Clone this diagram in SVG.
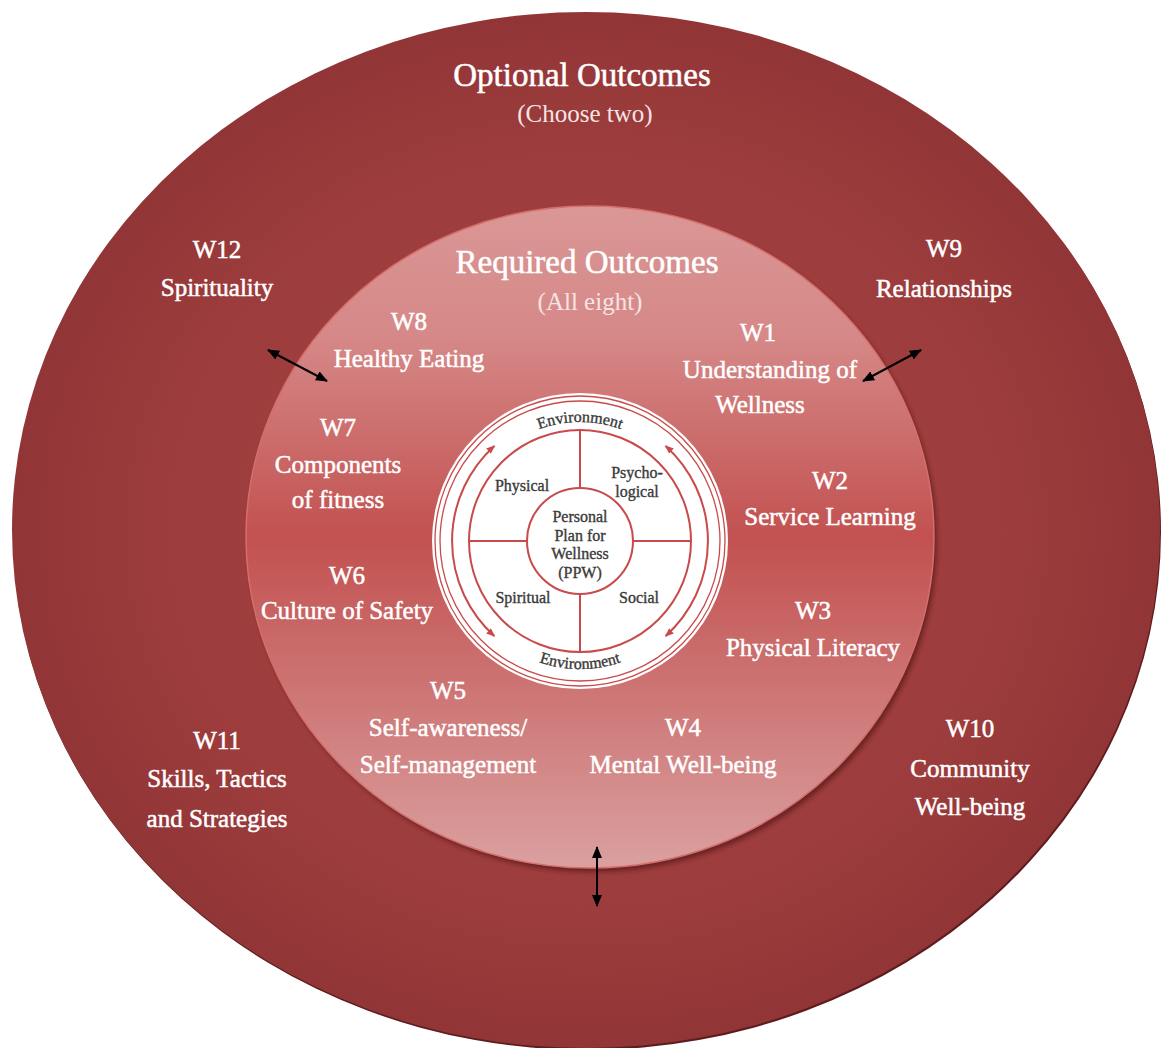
<svg xmlns="http://www.w3.org/2000/svg" width="1161" height="1048" viewBox="0 0 1161 1048">
  <defs>
    <radialGradient id="gOuter" cx="0.5" cy="0.5" r="0.5">
      <stop offset="0" stop-color="#a44341"/>
      <stop offset="0.75" stop-color="#9c3c3c"/>
      <stop offset="1" stop-color="#923537"/>
    </radialGradient>
    <linearGradient id="gInner" x1="0" y1="0" x2="0" y2="1">
      <stop offset="0" stop-color="#da9796"/>
      <stop offset="0.2" stop-color="#d58887"/>
      <stop offset="0.5" stop-color="#c25150"/>
      <stop offset="0.8" stop-color="#d0807f"/>
      <stop offset="1" stop-color="#daa0a0"/>
    </linearGradient>
    <filter id="blur2" x="-5%" y="-5%" width="110%" height="110%">
      <feGaussianBlur stdDeviation="2"/>
    </filter>
    <marker id="ahBlack" viewBox="0 0 12 10" refX="11" refY="5" markerWidth="12" markerHeight="10" markerUnits="userSpaceOnUse" orient="auto-start-reverse">
      <path d="M0,0 L12,5 L0,10 z" fill="#000"/>
    </marker>
    <marker id="ahRed" viewBox="0 0 10 8" refX="9" refY="4" markerWidth="9" markerHeight="7" markerUnits="userSpaceOnUse" orient="auto-start-reverse">
      <path d="M0,0 L10,4 L0,8 z" fill="#c84a4a"/>
    </marker>
    <path id="envTop" d="M 461,541 A 119 119 0 0 1 699,541"/>
    <path id="envBot" d="M 452,541 A 128 128 0 0 0 708,541"/>
  </defs>
  <style>
    .lbl { font-family: "Liberation Serif", "Times New Roman", serif; font-size: 25px; fill: #ffffff; stroke: #ffffff; stroke-width: 0.5; text-anchor: middle; }
    .title { font-family: "Liberation Serif", "Times New Roman", serif; font-size: 33px; fill: #ffffff; stroke: #ffffff; stroke-width: 0.5; text-anchor: middle; }
    .sub { font-family: "Liberation Serif", "Times New Roman", serif; font-size: 25px; fill: #f6e4e4; text-anchor: middle; }
    .wh { font-family: "Liberation Serif", "Times New Roman", serif; font-size: 16px; fill: #3a3a3a; stroke: #3a3a3a; stroke-width: 0.35; text-anchor: middle; }
    .wline { fill: none; stroke: #c84a4a; stroke-width: 2; }
    .conn { stroke: #000; stroke-width: 2; fill: none; marker-start: url(#ahBlack); marker-end: url(#ahBlack); }
  </style>

  <rect width="1161" height="1048" fill="#ffffff"/>

  <!-- Outer ring: optional outcomes -->
  <g id="optional-ring">
    <ellipse cx="587" cy="532" rx="574" ry="518" fill="#5e1c1e"/>
    <ellipse cx="586" cy="530" rx="574" ry="518" fill="url(#gOuter)"/>
    <text class="title" x="582" y="86">Optional Outcomes</text>
    <text class="sub" x="585" y="122">(Choose two)</text>
  </g>

  <!-- Inner disc: required outcomes -->
  <g id="required-disc">
    <ellipse cx="593" cy="541" rx="344" ry="331" fill="#5a1a1c" opacity="0.75" filter="url(#blur2)"/>
    <ellipse cx="590" cy="537" rx="344" ry="331" fill="url(#gInner)" stroke="#d66e6c" stroke-width="1.5"/>
    <text class="title" x="587" y="273">Required Outcomes</text>
    <text class="sub" x="590" y="310">(All eight)</text>
  </g>

  <!-- Central wheel: Personal Plan for Wellness -->
  <g id="ppw-wheel">
    <circle cx="580" cy="541" r="148" fill="#ffffff"/>
    <circle cx="580" cy="541" r="145" fill="none" stroke="#c84a4a" stroke-width="1.3"/>
    <circle cx="580" cy="541" r="140" fill="none" stroke="#c84a4a" stroke-width="1.3"/>
    <circle cx="580" cy="541" r="111" class="wline"/>
    <circle cx="580" cy="541" r="53" class="wline"/>
    <line x1="469" y1="541" x2="527" y2="541" class="wline"/>
    <line x1="633" y1="541" x2="691" y2="541" class="wline"/>
    <line x1="580" y1="430" x2="580" y2="488" class="wline"/>
    <line x1="580" y1="594" x2="580" y2="652" class="wline"/>
    <path d="M 494.4,445.9 A 128 128 0 0 0 494.4,636.1" class="wline" marker-start="url(#ahRed)" marker-end="url(#ahRed)"/>
    <path d="M 665.6,445.9 A 128 128 0 0 1 665.6,636.1" class="wline" marker-start="url(#ahRed)" marker-end="url(#ahRed)"/>
    <text class="wh"><textPath href="#envTop" startOffset="50%">Environment</textPath></text>
    <text class="wh"><textPath href="#envBot" startOffset="50%">Environment</textPath></text>
    <text class="wh" x="522" y="491">Physical</text>
    <text class="wh" x="637" y="478">Psycho-</text>
    <text class="wh" x="637" y="497">logical</text>
    <text class="wh" x="580" y="522">Personal</text>
    <text class="wh" x="580" y="541">Plan for</text>
    <text class="wh" x="580" y="559">Wellness</text>
    <text class="wh" x="580" y="578">(PPW)</text>
    <text class="wh" x="523" y="603">Spiritual</text>
    <text class="wh" x="639" y="603">Social</text>
  </g>

  <!-- Required outcome labels -->
  <g id="w1"><text class="lbl" x="758" y="341">W1</text><text class="lbl" x="770" y="378">Understanding of</text><text class="lbl" x="760" y="413">Wellness</text></g>
  <g id="w2"><text class="lbl" x="830" y="489">W2</text><text class="lbl" x="830" y="525">Service Learning</text></g>
  <g id="w3"><text class="lbl" x="813" y="619">W3</text><text class="lbl" x="813" y="656">Physical Literacy</text></g>
  <g id="w4"><text class="lbl" x="683" y="736">W4</text><text class="lbl" x="683" y="773">Mental Well-being</text></g>
  <g id="w5"><text class="lbl" x="448" y="699">W5</text><text class="lbl" x="448" y="736">Self-awareness/</text><text class="lbl" x="448" y="773">Self-management</text></g>
  <g id="w6"><text class="lbl" x="347" y="584">W6</text><text class="lbl" x="347" y="619">Culture of Safety</text></g>
  <g id="w7"><text class="lbl" x="338" y="436">W7</text><text class="lbl" x="338" y="473">Components</text><text class="lbl" x="338" y="508">of fitness</text></g>
  <g id="w8"><text class="lbl" x="409" y="330">W8</text><text class="lbl" x="409" y="367">Healthy Eating</text></g>

  <!-- Optional outcome labels -->
  <g id="w9"><text class="lbl" x="944" y="257">W9</text><text class="lbl" x="944" y="297">Relationships</text></g>
  <g id="w10"><text class="lbl" x="970" y="737">W10</text><text class="lbl" x="970" y="777">Community</text><text class="lbl" x="970" y="815">Well-being</text></g>
  <g id="w11"><text class="lbl" x="217" y="749">W11</text><text class="lbl" x="217" y="787">Skills, Tactics</text><text class="lbl" x="217" y="827">and Strategies</text></g>
  <g id="w12"><text class="lbl" x="217" y="258">W12</text><text class="lbl" x="217" y="296">Spirituality</text></g>

  <!-- Connectors -->
  <g id="connectors">
    <line class="conn" x1="268" y1="350" x2="327" y2="381"/>
    <line class="conn" x1="863" y1="381" x2="921" y2="350"/>
    <line class="conn" x1="597" y1="847" x2="597" y2="906"/>
  </g>
</svg>
